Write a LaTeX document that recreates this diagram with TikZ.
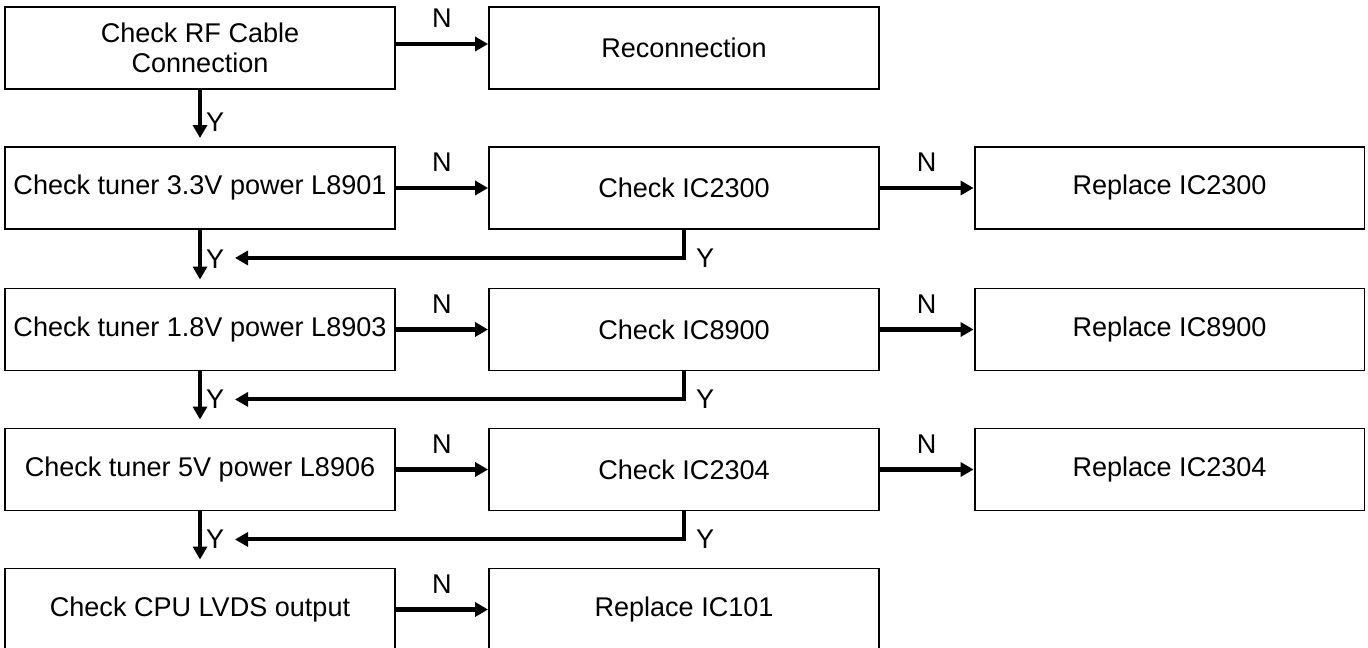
\documentclass[tikz,border=0pt]{standalone}
\usepackage{fontspec}
\setmainfont{Liberation Sans}
\usetikzlibrary{positioning,arrows.meta}

\begin{document}
\begin{tikzpicture}[x=0.02cm,y=-0.02cm,
  box/.style={draw,line width=1.1pt,minimum width=7.8cm,minimum height=1.64cm,inner sep=0pt,align=center,font=\fontsize{15.4}{17}\selectfont},
  arr/.style={line width=2.3pt,-{Triangle[length=0.26cm,width=0.28cm]}},
  yarr/.style={arr,shorten >=0.16cm},
  lbl/.style={inner sep=0pt,font=\fontsize{15.4}{17}\selectfont}]
  \useasboundingbox (0,0) rectangle (1368,648);

  \node[box] (c1) at (200,48)    {Check RF Cable\\Connection}; %左の列
  \node[box] (c2) at (200,188)   {Check tuner 3.3V power L8901};
  \node[box] (c3) at (200,329.5) {Check tuner 1.8V power L8903};
  \node[box] (c4) at (200,469.5) {Check tuner 5V power L8906};
  \node[box] (c5) at (200,609.5) {Check CPU LVDS output};

  \node[box] (k1) at (684,48)    {Reconnection}; %中の列
  \node[box] (k2) at (684,188)   {Check IC2300};
  \node[box] (k3) at (684,329.5) {Check IC8900};
  \node[box] (k4) at (684,469.5) {Check IC2304};
  \node[box] (k5) at (684,609.5) {Replace IC101};

  \node[box] (r2) at (1169.5,188)   {Replace IC2300}; %右の列
  \node[box] (r3) at (1169.5,329.5) {Replace IC8900};
  \node[box] (r4) at (1169.5,469.5) {Replace IC2304};

  % N
  \draw[arr] ([yshift=0.08cm]c1.east) -- node[lbl,above=0.28cm] {N} ([yshift=0.08cm]k1.west);
  \draw[arr] (c2) -- node[lbl,above=0.28cm] {N} (k2);
  \draw[arr] (c3) -- node[lbl,above=0.28cm] {N} (k3);
  \draw[arr] (c4) -- node[lbl,above=0.28cm] {N} (k4);
  \draw[arr] (c5) -- node[lbl,above=0.28cm] {N} (k5);
  \draw[arr] (k2) -- node[lbl,above=0.28cm] {N} (r2);
  \draw[arr] (k3) -- node[lbl,above=0.28cm] {N} (r3);
  \draw[arr] (k4) -- node[lbl,above=0.28cm] {N} (r4);

  % Y
  \draw[yarr] (c1) -- node[lbl,pos=0.58,right=0.08cm] {Y} (c2);
  \draw[yarr] (c2) -- node[lbl,pos=0.5,right=0.08cm] {Y} (c3);
  \draw[yarr] (c3) -- node[lbl,pos=0.5,right=0.08cm] {Y} (c4);
  \draw[yarr] (c4) -- node[lbl,pos=0.5,right=0.08cm] {Y} (c5);

  \coordinate (y2) at ([shift={(35,28)}]c2.south);
  \coordinate (y3) at ([shift={(35,28)}]c3.south);
  \coordinate (y4) at ([shift={(35,28)}]c4.south);
  \draw[arr] (k2.south) |- node[lbl,pos=0.5,right=0.2cm] {Y} (y2);
  \draw[arr] (k3.south) |- node[lbl,pos=0.5,right=0.2cm] {Y} (y3);
  \draw[arr] (k4.south) |- node[lbl,pos=0.5,right=0.2cm] {Y} (y4);
\end{tikzpicture}
\end{document}
